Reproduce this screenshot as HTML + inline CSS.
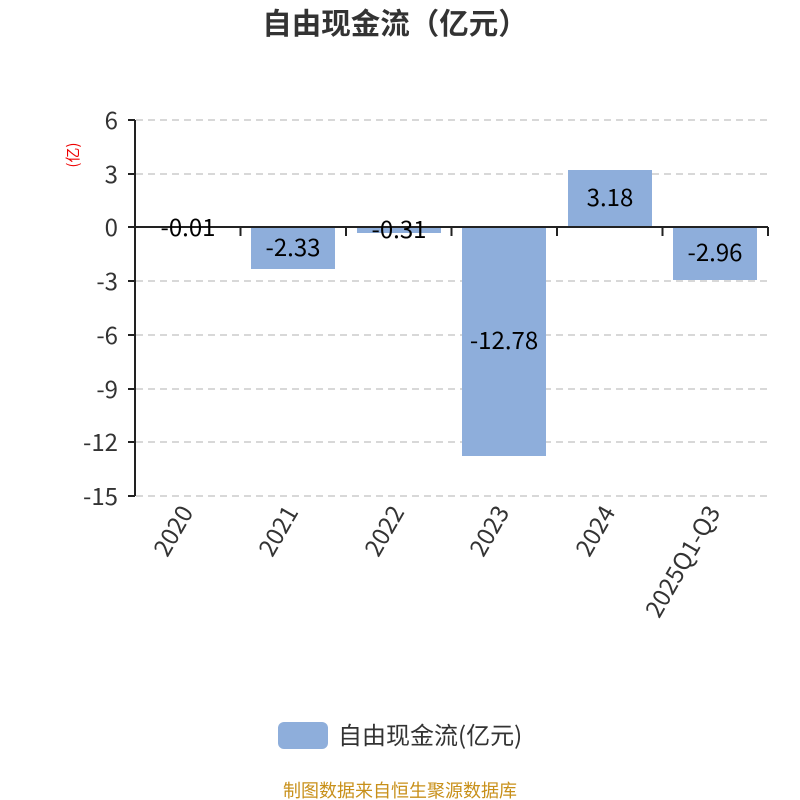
<!DOCTYPE html>
<html><head><meta charset="utf-8"><style>
html,body{margin:0;padding:0;background:#fff;width:800px;height:800px;overflow:hidden}
svg text{font-family:"Noto Sans CJK SC","Liberation Sans",sans-serif}
</style></head><body>
<svg width="800" height="800" xmlns="http://www.w3.org/2000/svg">
<text x="395" y="34" text-anchor="middle" font-size="29.5" font-weight="bold" fill="#333">自由现金流（亿元）</text>
<g stroke="#ccc" stroke-width="1.5" stroke-dasharray="7,5">
<line x1="136" y1="120" x2="768" y2="120"/>
<line x1="136" y1="174" x2="768" y2="174"/>
<line x1="136" y1="281" x2="768" y2="281"/>
<line x1="136" y1="335" x2="768" y2="335"/>
<line x1="136" y1="389" x2="768" y2="389"/>
<line x1="136" y1="442" x2="768" y2="442"/>
<line x1="136" y1="496" x2="768" y2="496"/>
</g>
<g fill="#8eaedb">
<rect x="146" y="227" width="84" height="1"/>
<rect x="251" y="227" width="84" height="42"/>
<rect x="357" y="227" width="84" height="6"/>
<rect x="462" y="227" width="84" height="229"/>
<rect x="568" y="170" width="84" height="57"/>
<rect x="673" y="227" width="84" height="53"/>
</g>
<g stroke="#222" stroke-width="2" fill="none">
<line x1="135" y1="120" x2="135" y2="496"/>
<line x1="128" y1="120" x2="135" y2="120"/>
<line x1="128" y1="174" x2="135" y2="174"/>
<line x1="128" y1="227" x2="135" y2="227"/>
<line x1="128" y1="281" x2="135" y2="281"/>
<line x1="128" y1="335" x2="135" y2="335"/>
<line x1="128" y1="389" x2="135" y2="389"/>
<line x1="128" y1="442" x2="135" y2="442"/>
<line x1="128" y1="496" x2="135" y2="496"/>
<line x1="135" y1="227" x2="768" y2="227"/>
<line x1="240.5" y1="227" x2="240.5" y2="236"/>
<line x1="346" y1="227" x2="346" y2="236"/>
<line x1="451.5" y1="227" x2="451.5" y2="236"/>
<line x1="557" y1="227" x2="557" y2="236"/>
<line x1="662.5" y1="227" x2="662.5" y2="236"/>
<line x1="768" y1="227" x2="768" y2="236"/>
</g>
<g font-size="24" fill="#333" text-anchor="end">
<text x="118" y="129">6</text>
<text x="118" y="183">3</text>
<text x="118" y="236">0</text>
<text x="118" y="290">-3</text>
<text x="118" y="344">-6</text>
<text x="118" y="398">-9</text>
<text x="118" y="451">-12</text>
<text x="118" y="505">-15</text>
</g>
<text transform="translate(78,155) rotate(-90)" text-anchor="middle" font-size="15" fill="#e00">(亿)</text>
<g font-size="24" fill="#000" text-anchor="middle">
<text x="188" y="236">-0.01</text>
<text x="293" y="256">-2.33</text>
<text x="399" y="238">-0.31</text>
<text x="504" y="349">-12.78</text>
<text x="610" y="206">3.18</text>
<text x="715" y="261">-2.96</text>
</g>
<g font-size="24" fill="#333" text-anchor="end">
<text transform="translate(194,512) rotate(-60)">2020</text>
<text transform="translate(299,512) rotate(-60)">2021</text>
<text transform="translate(405,512) rotate(-60)">2022</text>
<text transform="translate(510,512) rotate(-60)">2023</text>
<text transform="translate(616,512) rotate(-60)">2024</text>
<text transform="translate(721,512) rotate(-60)">2025Q1-Q3</text>
</g>
<rect x="278" y="722" width="50" height="27" rx="6" fill="#8eaedb"/>
<text x="338" y="744" font-size="24" fill="#333">自由现金流(亿元)</text>
<text x="400" y="797" text-anchor="middle" font-size="18" fill="#c8901a">制图数据来自恒生聚源数据库</text>
</svg>
</body></html>
